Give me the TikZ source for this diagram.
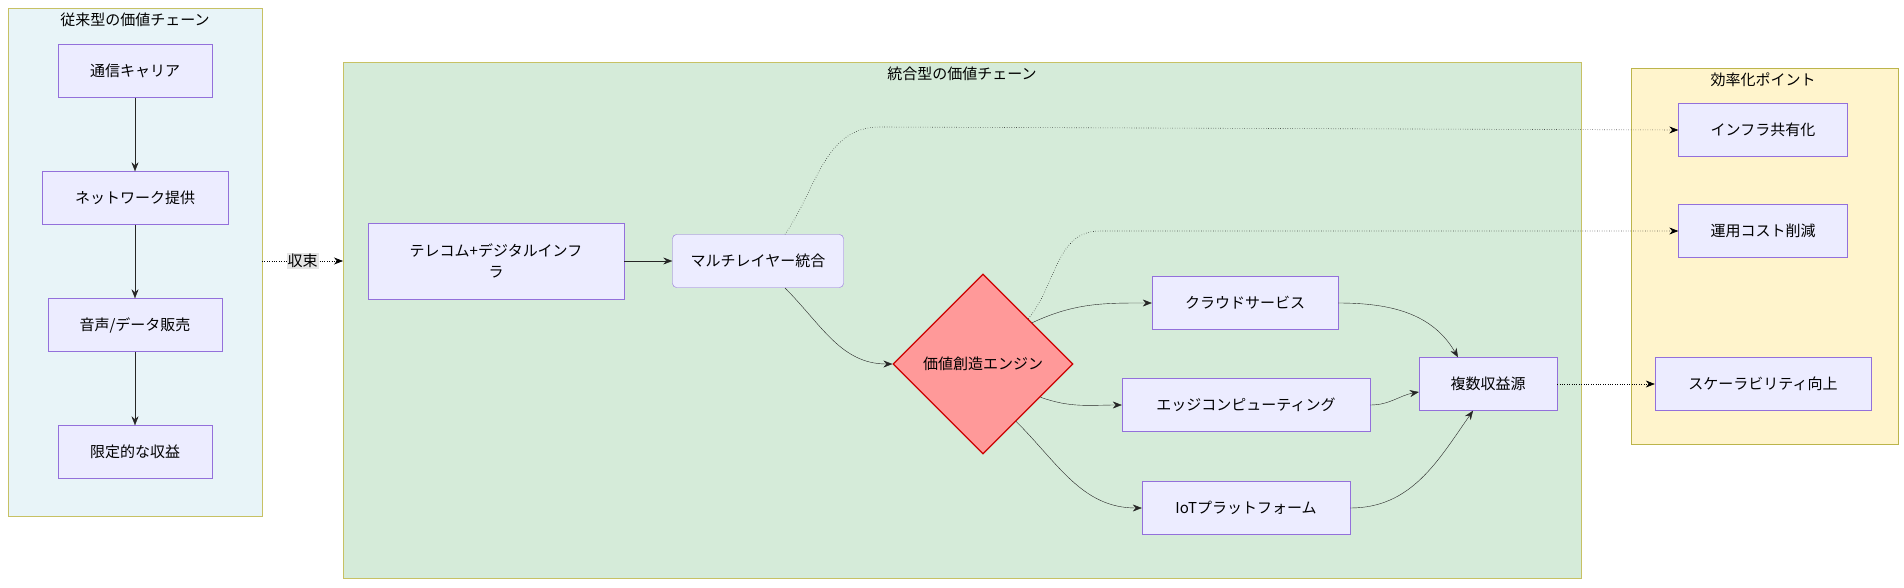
\documentclass[tikz,border=0pt]{standalone}
\usepackage{fontspec}
\setmainfont{Noto Sans CJK JP}
\usetikzlibrary{arrows.meta,shapes.geometric,positioning}
\definecolor{boxfill}{HTML}{ECECFF}
\definecolor{boxline}{HTML}{9370DB}
\definecolor{oldfill}{HTML}{E8F4F8}
\definecolor{newfill}{HTML}{D5EBD9}
\definecolor{efffill}{HTML}{FFF4CC}
\tikzset{
box/.style={draw=boxline,fill=boxfill,rectangle,minimum height=53pt,inner sep=0pt,align=center,font=\fontsize{15}{21}\selectfont},
link/.style={-{Stealth[length=9pt,width=7pt]},draw=black!85,thin},
weak/.style={link,dotted,semithick,draw=black}
}
\begin{document}
\begin{tikzpicture}[x=1pt,y=-1pt]
\useasboundingbox (0,0) rectangle (1904,587);
% clusters
\fill[oldfill] (8,8) rectangle (262,516);
\draw[draw=olive!50] (8,8) rectangle (262,516);
\node[font=\fontsize{15}{18}\selectfont] (oldtitle) at (135,20) {従来型の価値チェーン};
\fill[newfill] (343,62) rectangle (1581,578);
\draw[draw=olive!50] (343,62) rectangle (1581,578);
\node[font=\fontsize{15}{18}\selectfont] (newtitle) at (962,74) {統合型の価値チェーン};
\fill[efffill] (1631,68) rectangle (1898,444);
\draw[draw=olive!60] (1631,68) rectangle (1898,444);
\node[font=\fontsize{15}{18}\selectfont] (efftitle) at (1763,80) {効率化ポイント};
% old chain
\node[box,minimum width=154pt] (carrier) at (135,71) {通信キャリア};
\node[box,minimum width=186pt] (network) at (135,198) {ネットワーク提供};
\node[box,minimum width=174pt] (sales) at (135,325) {音声/データ販売};
\node[box,minimum width=154pt] (limited) at (135,452) {限定的な収益};
% new chain
\node[box,minimum width=256pt,minimum height=76pt] (telecom) at (496,261) {テレコム+デジタルインフ\\ラ};
\node[box,rounded corners=4pt,minimum width=171pt] (multi) at (758,261) {マルチレイヤー統合};
\node[diamond,draw=red!80!black,very thick,fill=red!40!white,minimum size=180pt,inner sep=0pt,
  label={[font=\fontsize{15}{18}\selectfont]center:価値創造エンジン}] (engine) at (983,364) {};
\node[box,minimum width=186pt] (cloud) at (1245,303) {クラウドサービス};
\node[box,minimum width=248pt] (edge) at (1246,405) {エッジコンピューティング};
\node[box,minimum width=208pt] (iot) at (1246,508) {IoTプラットフォーム};
\node[box,minimum width=138pt] (revenue) at (1488,384) {複数収益源};
% efficiency
\node[box,minimum width=169pt] (share) at (1763,130) {インフラ共有化};
\node[box,minimum width=169pt] (cost) at (1763,231) {運用コスト削減};
\node[box,minimum width=216pt] (scale) at (1763,384) {スケーラビリティ向上};
% connectors
\foreach \a/\b in {carrier/network,network/sales,sales/limited,telecom/multi}
  \draw[link] (\a) -- (\b);
\coordinate (left) at (262,261);
\coordinate (mid) at (343,261);
\draw[weak] (left) -- node[fill=black!10,inner sep=1pt,font=\fontsize{15}{18}\selectfont] (merge) {収束} (mid);
\coordinate (m1) at (785,288);
\draw[link] (m1) to[out=-45,in=180] (engine.west);
\draw[link] (engine.40) to[out=25,in=180] (cloud.west);
\draw[link] (engine.-30) to[out=-20,in=180] (edge.west);
\draw[link] (engine.-60) to[out=-45,in=180] (iot.west);
\draw[link] (cloud.east) to[out=0,in=120] ([xshift=-30pt]revenue.north);
\draw[link] (edge.east) to[out=0,in=190] ([yshift=-8pt]revenue.west);
\draw[link] (iot.east) to[out=0,in=-125] ([xshift=-15pt]revenue.south);
\coordinate (k1) at (880,127);
\coordinate (k2) at (1100,231);
\draw[weak] ([xshift=27pt]multi.north) to[out=55,in=180] (k1) -- (share.west);
\draw[weak] (engine.north east) to[out=50,in=180] (k2) -- (cost.west);
\draw[weak] (revenue) -- (scale);
\end{tikzpicture}
\end{document}
